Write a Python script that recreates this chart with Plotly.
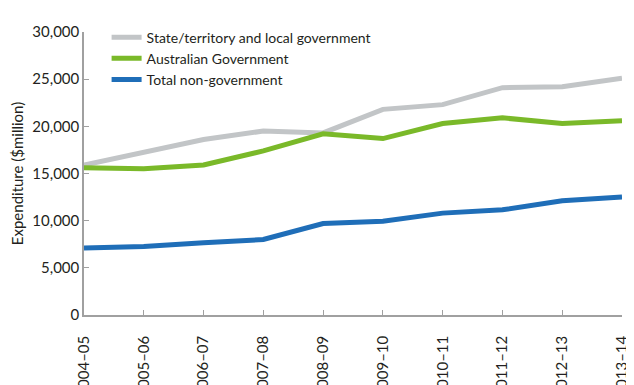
import plotly.graph_objects as go

years = ["2004–05", "2005–06", "2006–07", "2007–08", "2008–09",
         "2009–10", "2010–11", "2011–12", "2012–13", "2013–14"]
state_local = [15900, 17200, 18600, 19500, 19300, 21800, 22300, 24100, 24200, 25100]
australian_gov = [15600, 15500, 15900, 17400, 19200, 18700, 20300, 20900, 20300, 20600]
non_government = [7100, 7250, 7650, 8000, 9700, 9950, 10800, 11150, 12100, 12500]
y_ticks = [0, 5000, 10000, 15000, 20000, 25000, 30000]

series = [
    ("State/territory and local government", state_local, "#C2C5C7"),
    ("Australian Government", australian_gov, "#7AB929"),
    ("Total non-government", non_government, "#1F6EB8"),
]

idx = list(range(len(years)))
fig = go.Figure()
for name, vals, color in series:
    fig.add_trace(go.Scatter(x=idx, y=vals, name=name, mode="lines",
                             line=dict(color=color, width=5)))

font = "Lato, 'Noto Sans', sans-serif"
# page body has an 8px default margin, so the figure is sized to fit the window
fig.update_layout(
    width=626, height=377,
    margin=dict(l=76, r=12, t=24, b=70, autoexpand=False),
    paper_bgcolor="white", plot_bgcolor="white",
    font=dict(family=font, size=14, color="#231F20"),
    showlegend=True,
    legend=dict(x=0.042, y=1.037, xanchor="left", yanchor="top",
                bgcolor="rgba(0,0,0,0)", font=dict(size=14),
                tracegroupgap=0, itemwidth=30),
    xaxis=dict(range=[0, len(years) - 1], tickmode="array", tickvals=idx,
               ticktext=years, tickangle=-90, showgrid=False, zeroline=False,
               showline=True, linecolor="#A0A0A0", linewidth=1.5,
               ticks="inside", ticklen=5, tickcolor="#A0A0A0",
               ticklabelstandoff=13, tickfont=dict(size=15)),
    yaxis=dict(range=[0, 30000], tickvals=y_ticks,
               ticktext=[f"{v:,}" for v in y_ticks], showgrid=False,
               zeroline=False, showline=True, linecolor="#A0A0A0", linewidth=1.5,
               ticks="inside", ticklen=5, tickcolor="#A0A0A0",
               title=dict(text="Expenditure ($million)", font=dict(size=15), standoff=6),
               tickfont=dict(size=15)),
)
fig.write_html("out.html")
